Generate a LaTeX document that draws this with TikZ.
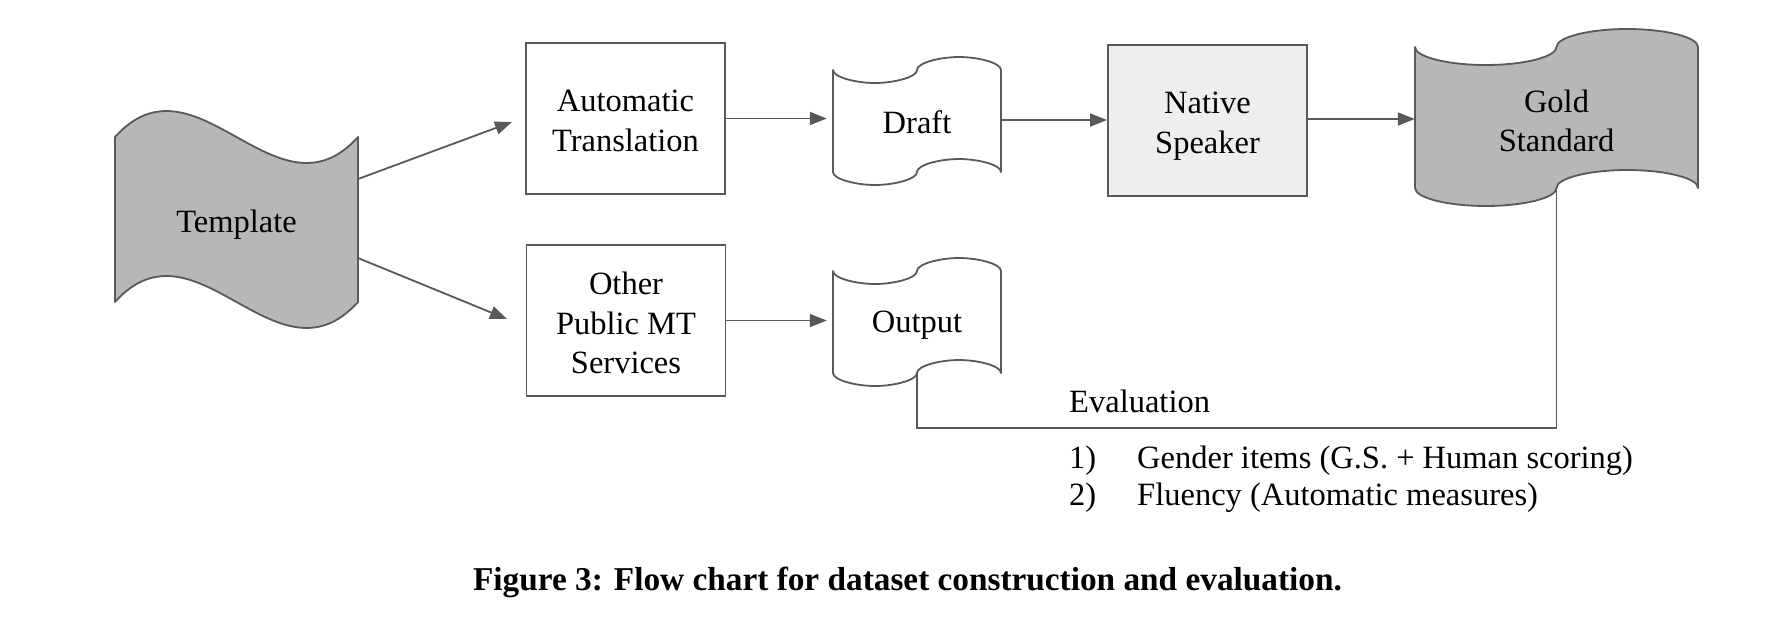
\documentclass[tikz,border=0pt]{standalone}
\usepackage{fontspec}
\setmainfont{Liberation Serif}
\usetikzlibrary{arrows.meta}
\definecolor{linec}{HTML}{595959}
\definecolor{darkfill}{HTML}{B7B7B7}
\definecolor{lightfill}{HTML}{EEEEEE}
\newcommand{\txt}{\fontsize{32.5}{39.5}\selectfont}
\newcommand{\capfont}{\fontsize{33.3}{38}\selectfont\bfseries}
\begin{document}
\begin{tikzpicture}[x=1pt,y=-1pt,
  line/.style={draw=linec, line width=1.8pt},
  arr/.style={line, -{Triangle[length=17pt,width=13pt]}},
  box/.style={draw=linec, line width=1.8pt, minimum width=199pt, minimum height=151pt, inner sep=0pt},
  lbl/.style={inner sep=0pt, align=center, font=\txt},
  wave/.style={draw=linec, line width=1.8pt, line join=round}]
\useasboundingbox (0,0) rectangle (1774,622);

% Template (flag shape)
\path[wave, fill=darkfill] (115,137) .. controls (196,47) and (277,227) .. (358,137)
  -- (358,302) .. controls (277,392) and (196,212) .. (115,302) -- cycle;
\node[lbl, minimum width=243pt, minimum height=165pt] (tpl) at (236.5,224.5) {Template};

% Draft
\path[wave, fill=white]
  (833,70)
  .. controls (833,77.2) and (856.2,83) .. (875,83) .. controls (893.8,83) and (917,77.2) .. (917,70)
  .. controls (917,62.8) and (940.2,57) .. (959,57) .. controls (977.8,57) and (1001,62.8) .. (1001,70)
  -- (1001,172)
  .. controls (1001,164.8) and (977.8,159) .. (959,159) .. controls (940.2,159) and (917,164.8) .. (917,172)
  .. controls (917,179.2) and (893.8,185) .. (875,185) .. controls (856.2,185) and (833,179.2) .. (833,172)
  -- cycle;
\node[lbl, minimum width=168pt, minimum height=102pt] (draft) at (917,122) {Draft};

% Output
\path[wave, fill=white]
  (833,271)
  .. controls (833,278.2) and (856.2,284) .. (875,284) .. controls (893.8,284) and (917,278.2) .. (917,271)
  .. controls (917,263.8) and (940.2,258) .. (959,258) .. controls (977.8,258) and (1001,263.8) .. (1001,271)
  -- (1001,373)
  .. controls (1001,365.8) and (977.8,360) .. (959,360) .. controls (940.2,360) and (917,365.8) .. (917,373)
  .. controls (917,380.2) and (893.8,386) .. (875,386) .. controls (856.2,386) and (833,380.2) .. (833,373)
  -- cycle;
\node[lbl, minimum width=168pt, minimum height=102pt] (output) at (917,325.5) {Output};

% Gold Standard
\path[wave, fill=darkfill]
  (1415,47)
  .. controls (1415,56.9) and (1447.7,65) .. (1485.75,65) .. controls (1523.8,65) and (1556.5,56.9) .. (1556.5,47)
  .. controls (1556.5,37.1) and (1589.2,29) .. (1627.25,29) .. controls (1665.3,29) and (1698,37.1) .. (1698,47)
  -- (1698,188)
  .. controls (1698,178.1) and (1665.3,170) .. (1627.25,170) .. controls (1589.2,170) and (1556.5,178.1) .. (1556.5,188)
  .. controls (1556.5,197.9) and (1523.8,206) .. (1485.75,206) .. controls (1447.7,206) and (1415,197.9) .. (1415,188)
  -- cycle;
\node[lbl, minimum width=283pt, minimum height=141pt] (gold) at (1556.5,120.8) {Gold\\Standard};

% Boxes
\node[box] (at) at (625.5,118.5) {};
\node[lbl] (atT) at (625.5,120.8) {Automatic\\Translation};
\node[box] (mt) at (626,320.5) {};
\node[lbl] (mtT) at (626,323.3) {Other\\Public MT\\Services};
\node[box, fill=lightfill] (ns) at (1207.5,120.5) {};
\node[lbl] (nsT) at (1207.5,126) {Native\\Speaker};

% connector end points
\coordinate (tplA) at (358,179);
\coordinate (tplB) at (358,258);
\coordinate (atIn) at (512,122);
\coordinate (mtIn) at (507,319);
\coordinate (outB) at (917,373);
\coordinate (goldB) at (1556.5,188);
\coordinate (evalY) at (0,428);

% Arrows
\draw[arr] (tplA) -- (atIn);
\draw[arr] (tplB) -- (mtIn);
\draw[arr, shorten >=6pt] (at.east) -- (at.east -| draft.west);
\draw[arr, shorten >=6pt] (mt.east) -- (mt.east -| output.west);
\draw[arr] (draft.east |- 0,120) -- (ns.west |- 0,120);
\draw[arr] (ns.east |- 0,119) -- (gold.west |- 0,119);
\draw[line] (outB) -- (outB |- evalY) -- (goldB |- evalY) -- (goldB);

% Evaluation text
\node[anchor=base west, inner sep=0pt, font=\txt] (ev) at (1069,412) {Evaluation};
\node[anchor=base west, inner sep=0pt, font=\txt] (n1) at (1069,468) {1)};
\node[anchor=base west, inner sep=0pt, font=\txt] (i1) at (1137,468) {Gender items (G.S. + Human scoring)};
\node[anchor=base west, inner sep=0pt, font=\txt] (n2) at (1069,505) {2)};
\node[anchor=base west, inner sep=0pt, font=\txt] (i2) at (1137,505) {Fluency (Automatic measures)};

% Caption
\node[inner sep=0pt, font=\capfont] (cap) at (907.5,582) {Figure 3: Flow chart for dataset construction and evaluation.};
\end{tikzpicture}
\end{document}
